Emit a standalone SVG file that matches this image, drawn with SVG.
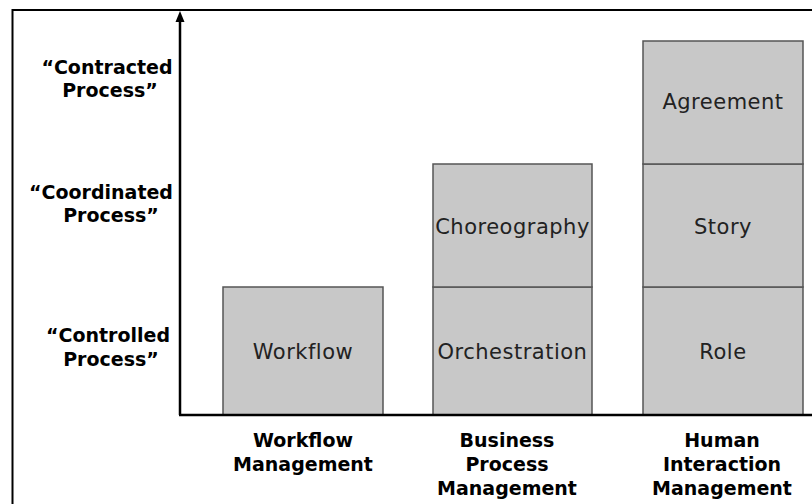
<svg xmlns="http://www.w3.org/2000/svg" width="812" height="504" viewBox="0 0 812 504">
  <defs>
    <style>
      .box { fill: #c8c8c8; stroke: #555; stroke-width: 1.5; }
      .boxText { font-family: "DejaVu Sans", Verdana, sans-serif; font-size: 21px; letter-spacing: 0.5px; fill: #222; text-anchor: middle; }
      .axisText { font-family: "DejaVu Sans", Verdana, sans-serif; font-size: 19px; font-weight: bold; fill: #000; text-anchor: middle; }
      .frame { fill: none; stroke: #000; stroke-width: 2; }
      .axis { fill: none; stroke: #000; stroke-width: 2.5; }
      .head { fill: #000; }
    </style>
  </defs>

  <rect width="812" height="504" fill="#fff"/>
  <!-- outer frame, open on the right and bottom -->
  <path class="frame" d="M12.5,504 V10 H812"/>

  <!-- level labels on the y axis -->
  <g id="level-contracted">
    <text class="axisText" x="107" y="74">“Contracted</text>
    <text class="axisText" x="110" y="97">Process”</text>
  </g>
  <g id="level-coordinated">
    <text class="axisText" x="101" y="199">“Coordinated</text>
    <text class="axisText" x="111" y="222">Process”</text>
  </g>
  <g id="level-controlled">
    <text class="axisText" x="108" y="342">“Controlled</text>
    <text class="axisText" x="111" y="366">Process”</text>
  </g>

  <!-- Workflow Management column -->
  <g id="workflow">
    <rect class="box" x="223" y="287" width="160" height="128"/>
    <text class="boxText" x="303" y="359">Workflow</text>
  </g>

  <!-- Business Process Management column -->
  <g id="orchestration">
    <rect class="box" x="433" y="287" width="159" height="128"/>
    <text class="boxText" x="512.5" y="359">Orchestration</text>
  </g>
  <g id="choreography">
    <rect class="box" x="433" y="164" width="159" height="123"/>
    <text class="boxText" x="512.5" y="234">Choreography</text>
  </g>

  <!-- Human Interaction Management column -->
  <g id="role">
    <rect class="box" x="643" y="287" width="160" height="128"/>
    <text class="boxText" x="723" y="359">Role</text>
  </g>
  <g id="story">
    <rect class="box" x="643" y="164" width="160" height="123"/>
    <text class="boxText" x="723" y="234">Story</text>
  </g>
  <g id="agreement">
    <rect class="box" x="643" y="41" width="160" height="123"/>
    <text class="boxText" x="723" y="109">Agreement</text>
  </g>

  <!-- axes -->
  <g id="connectors">
    <path class="axis" d="M180,415 V20"/>
    <path class="head" d="M180,11 L184.5,22 L175.5,22 Z"/>
    <path class="axis" d="M179,415 H812"/>
  </g>

  <!-- category labels on the x axis -->
  <g id="cat-workflow">
    <text class="axisText" x="303" y="447">Workflow</text>
    <text class="axisText" x="303" y="471">Management</text>
  </g>
  <g id="cat-bpm">
    <text class="axisText" x="507" y="447">Business</text>
    <text class="axisText" x="507" y="471">Process</text>
    <text class="axisText" x="507" y="495">Management</text>
  </g>
  <g id="cat-him">
    <text class="axisText" x="722" y="447">Human</text>
    <text class="axisText" x="722" y="471">Interaction</text>
    <text class="axisText" x="722" y="495">Management</text>
  </g>
</svg>
